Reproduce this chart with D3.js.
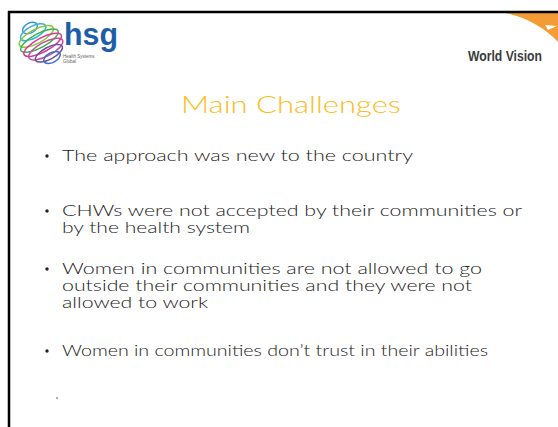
<!DOCTYPE html>
<html><head><meta charset="utf-8">
<script src="https://cdn.jsdelivr.net/npm/d3@7"></script>
<style>body{margin:0;background:#fff;overflow:hidden}svg{display:block}</style>
</head><body>
<script>
// ---- data ----
const titleText = "Main Challenges";
const bullets = [
  ["The approach was new to the country"],
  ["CHWs were not accepted by their communities or", "by the health system"],
  ["Women in communities are not allowed to go", "outside their communities and they were not", "allowed to work"],
  ["Women in communities don\u2019t trust in their abilities"]
];
const lineWidths = [[351],[460,188],[420,410,146],[426]];
const logoText = "hsg";
const logoSub = ["Health Systems", "Global"];
const partnerText = "World Vision";

// ---- layout ----
const W = 558, H = 427;
const svg = d3.select("body").append("svg").attr("width", W).attr("height", H);

// orange swoosh
svg.append("path")
  .attr("d", "M500,12 L558,12 L558,42 C545,28 525,16 500,12 Z")
  .attr("fill", "#f39c33");
svg.append("path")
  .attr("d", "M545,25 L557,26 L548,30 Z").attr("fill", "#fff");

// border (top + left)
svg.append("line").attr("x1", 8).attr("x2", W).attr("y1", 12).attr("y2", 12).attr("stroke", "#000").attr("stroke-width", 2.5);
svg.append("line").attr("x1", 9).attr("x2", 9).attr("y1", 11).attr("y2", H).attr("stroke", "#000").attr("stroke-width", 2.5);

// swirl logo
const swirlColors = ["#3f8fd6", "#2bb5d9", "#8dc63f", "#37b34a", "#e2378f", "#c04da0", "#6a4fa0", "#3f6fc6"];
const swirl = svg.append("g").attr("transform", "translate(42,42) rotate(-28)");
swirl.selectAll("ellipse").data(swirlColors).join("ellipse")
  .attr("cx", (d, i) => -4 + i * 0.8)
  .attr("cy", (d, i) => -18 + i * 5.2)
  .attr("rx", (d, i) => [8, 14, 19, 21, 21, 19, 15, 9][i])
  .attr("ry", (d, i) => [5, 6, 7, 7, 7, 7, 6, 5][i])
  .attr("fill", "none").attr("stroke", d => d).attr("stroke-width", 1.5);

svg.append("text").text(logoText).attr("x", 64).attr("y", 45)
  .attr("font-family", "Liberation Sans, Arial, sans-serif").attr("font-weight", "bold")
  .attr("font-size", 31).attr("fill", "#1d5ea8").attr("textLength", 54).attr("lengthAdjust", "spacingAndGlyphs");
svg.selectAll("text.sub").data(logoSub).join("text").attr("class", "sub")
  .text(d => d).attr("x", 63).attr("y", (d, i) => 58 + i * 5)
  .attr("font-family", "Liberation Sans, Arial, sans-serif").attr("font-size", 4.5).attr("fill", "#666");

svg.append("text").text(partnerText).attr("x", 468).attr("y", 61)
  .attr("font-family", "Liberation Sans Narrow, Liberation Sans, sans-serif").attr("font-weight", "bold")
  .attr("font-size", 15).attr("fill", "#3b3b3b").attr("textLength", 74).attr("lengthAdjust", "spacingAndGlyphs");

// title
svg.append("text").text(titleText).attr("x", 181).attr("y", 113)
  .attr("font-family", "Lato, 'Open Sans', sans-serif").attr("font-weight", 300).attr("font-size", 24)
  .attr("fill", "#fbbd1c").attr("textLength", 220).attr("lengthAdjust", "spacingAndGlyphs");

// bullets: baseline of first line of each paragraph
const paraTop = [161, 216, 274, 356];
const lineH = 17;
const y = d3.scaleOrdinal().domain(d3.range(bullets.length)).range(paraTop);
const g = svg.append("g");
bullets.forEach((lines, p) => {
  g.append("circle").attr("cx", 47).attr("cy", y(p) - 5).attr("r", 1.7).attr("fill", "#222");
  lines.forEach((ln, k) => {
    g.append("text").text(ln).attr("x", 62).attr("y", y(p) + k * lineH)
      .attr("font-family", "Lato, 'Open Sans', sans-serif").attr("font-weight", 300).attr("font-size", 16.5)
      .attr("fill", "#1a1a1a").attr("textLength", lineWidths[p][k]).attr("lengthAdjust", "spacingAndGlyphs");
  });
});
svg.append("circle").attr("cx", 57).attr("cy", 398).attr("r", 0.8).attr("fill", "#444");
</script>
</body></html>
